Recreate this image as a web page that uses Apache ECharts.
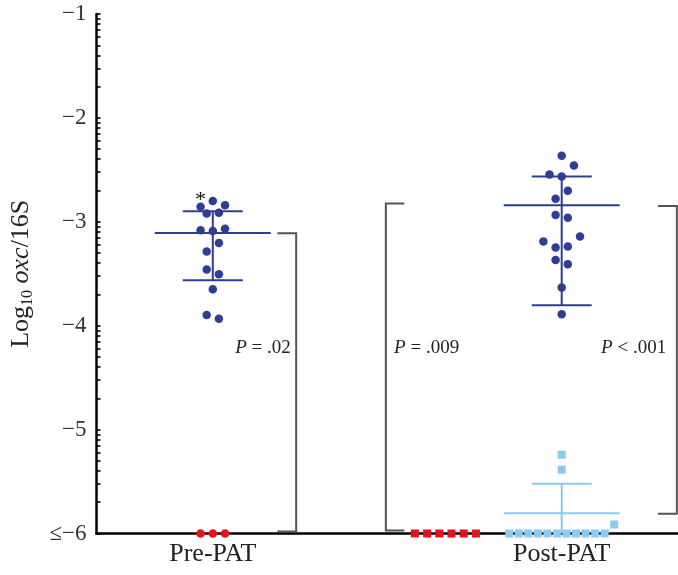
<!DOCTYPE html>
<html><head><meta charset="utf-8">
<script src="https://cdn.jsdelivr.net/npm/echarts@6/dist/echarts.min.js"></script>
<style>html,body{margin:0;padding:0;background:#fff}#c{width:678px;height:575px}</style>
</head><body><div id="c"></div>
<script>
// ---------------- data ----------------
const groupLabels = ['Pre-PAT', 'Post-PAT'];
const groupPositions = [1, 2];
const postNegPosition = 5 / 3;
const yTickValues = [-6, -5, -4, -3, -2, -1];

// log10 oxc/16S values (listed left-to-right within each row of the dot plot)
const preBlue = [-2.856, -2.799, -2.840, -2.920, -2.914, -3.081, -3.088, -3.068,
                 -3.286, -3.203, -3.460, -3.505, -3.649, -3.897, -3.932];
const preRed = [-6, -6, -6];
const postBlue = [-2.365, -2.544, -2.564, -2.458, -2.779, -2.702, -2.934, -2.962,
                  -3.190, -3.248, -3.238, -3.142, -3.367, -3.408, -3.633, -3.890];
const postRed = [-6, -6, -6, -6, -6, -6];
const postLightBlue = [-5.242, -5.386, -6, -6, -6, -6, -6, -6, -6, -6, -6, -6, -6, -5.913];

// summary lines: [centre, upper, lower]
const preSummary = [-3.107, -2.898, -3.563];
const postSummary = [-2.840, -2.564, -3.803];
const postLightSummary = [-5.804, -5.521, -6.087];

// comparison brackets: top / bottom values and P labels
const bracketTop = [-3.110, -2.824, -2.847];
const bracketBottom = [-5.981, -5.971, -5.810];
const pLabels = ['P = .02', 'P = .009', 'P < .001'];
const pLabelValue = -4.218;
const asteriskIndex = 0; // point in preBlue marked with *

// ---------------- layout / style ----------------
const FONT = '"Liberation Serif", "DejaVu Serif", serif';
const BLUE = '#2f3d92', LIGHT = '#8ccbef', RED = '#e3121c', GRAY = '#555555';
const ROW_GAP = 0.09, ROW_SPAN = 0.11, DOT_STEP = 0.035, ROW_MAX = 0.301;

function swarm(values, center) {
  const idx = values.map((v, i) => i).sort((a, b) => values[b] - values[a] || a - b);
  const rows = []; let cur = null;
  idx.forEach(i => {
    const v = values[i];
    if (cur && (cur.last - v) <= ROW_GAP + 1e-9 && (cur.first - v) <= ROW_SPAN + 1e-9) {
      cur.items.push(i); cur.last = v;
    } else { cur = { first: v, last: v, items: [i] }; rows.push(cur); }
  });
  const out = new Array(values.length);
  rows.forEach(r => {
    r.items.sort((a, b) => a - b);
    const n = r.items.length;
    const step = n > 1 ? Math.min(DOT_STEP, ROW_MAX / (n - 1)) : 0;
    r.items.forEach((i, k) => { out[i] = [center + (k - (n - 1) / 2) * step, values[i]]; });
  });
  return out;
}

// minor ticks: log-decade positions inside each unit
const tickValues = [];
yTickValues.forEach(v => tickValues.push(v));
for (let n = 1; n <= 5; n++) for (let k = 2; k <= 9; k++) tickValues.push(-n - 1 + Math.log10(k));

const bracketX = [[1.239, 1.185], [1.496, 1.549], [2.330, 2.276]];
const pLabelX = [[1.2235, 'right'], [1.5196, 'left'], [2.2995, 'right']];

const preBluePts = swarm(preBlue, groupPositions[0]).map((p, i) => i === asteriskIndex ? {
  value: p, label: { show: true, formatter: '*', position: 'top', distance: 0, offset: [0, 9],
    fontSize: 22, color: '#111', fontFamily: FONT }
} : p);

function renderErr(params, api) {
  const x = api.value(0);
  const pm = api.coord([x, api.value(1)]), pu = api.coord([x, api.value(2)]), pl = api.coord([x, api.value(3)]);
  const st = { stroke: api.visual('color'), lineWidth: 2 };
  return { type: 'group', children: [
    { type: 'line', shape: { x1: pu[0], y1: pu[1], x2: pl[0], y2: pl[1] }, style: st },
    { type: 'line', shape: { x1: pm[0] - 58, y1: pm[1], x2: pm[0] + 58, y2: pm[1] }, style: st },
    { type: 'line', shape: { x1: pu[0] - 30, y1: pu[1], x2: pu[0] + 30, y2: pu[1] }, style: st },
    { type: 'line', shape: { x1: pl[0] - 30, y1: pl[1], x2: pl[0] + 30, y2: pl[1] }, style: st }
  ]};
}

const dotStyle = c => ({ color: c, opacity: 1 });

const chart = echarts.init(document.getElementById('c'), null, { renderer: 'canvas' });
chart.setOption({
  animation: false,
  backgroundColor: '#ffffff',
  grid: { left: 96, right: 0, top: 14, bottom: 41.5 },
  xAxis: {
    type: 'value', min: 2 / 3, max: 7 / 3,
    splitLine: { show: false },
    axisTick: { show: false },
    axisLine: { onZero: false, lineStyle: { color: '#000', width: 2.5 } },
    axisLabel: {
      customValues: groupPositions,
      formatter: v => groupLabels[groupPositions.findIndex(g => Math.abs(g - v) < 1e-6)] || '',
      fontSize: 26, fontFamily: FONT, color: '#222', margin: 8
    }
  },
  yAxis: {
    type: 'value', min: -6, max: -1,
    splitLine: { show: false },
    axisLine: { show: true, lineStyle: { color: '#000', width: 2.5 } },
    axisTick: { show: true, inside: true, length: 4, customValues: tickValues, lineStyle: { color: '#000', width: 1.6 } },
    axisLabel: {
      customValues: yTickValues,
      formatter: v => (v === -6 ? '≤' : '') + '−' + Math.abs(v),
      fontSize: 23, fontFamily: FONT, color: '#333', margin: 10
    },
    name: '{n|Log}{s|10}{n| }{i|oxc}{n|/16S}',
    nameLocation: 'middle', nameRotate: 90, nameGap: 61,
    nameTextStyle: {
      fontFamily: FONT, fontSize: 26, color: '#222',
      rich: {
        n: { fontFamily: FONT, fontSize: 26, color: '#222' },
        i: { fontFamily: FONT, fontSize: 26, color: '#222', fontStyle: 'italic' },
        s: { fontFamily: FONT, fontSize: 16, color: '#222', padding: [13, 0, 0, 0] }
      }
    }
  },
  series: [
    { type: 'custom', name: 'brackets', z: 1, silent: true,
      data: bracketTop.map((t, i) => [bracketX[i][0], bracketX[i][1], t, bracketBottom[i]]),
      renderItem: (params, api) => {
        const a = api.coord([api.value(0), api.value(2)]), b = api.coord([api.value(1), api.value(2)]);
        const c = api.coord([api.value(0), api.value(3)]), d = api.coord([api.value(1), api.value(3)]);
        return { type: 'polyline', shape: { points: [b, a, c, d] }, style: { stroke: GRAY, lineWidth: 2, fill: null } };
      } },
    { type: 'custom', name: 'pvalues', z: 1, silent: true,
      data: pLabels.map((t, i) => [pLabelX[i][0], pLabelValue, i]),
      renderItem: (params, api) => {
        const i = api.value(2); const p = api.coord([api.value(0), api.value(1)]);
        return { type: 'text', style: {
          text: '{i|P}' + pLabels[i].slice(1), x: p[0], y: p[1], align: pLabelX[i][1], verticalAlign: 'middle',
          fontFamily: FONT, fontSize: 19, fill: '#222',
          rich: { i: { fontStyle: 'italic', fontFamily: FONT, fontSize: 19, fill: '#222' } } } };
      } },
    { type: 'custom', name: 'preErr', z: 2, clip: true, itemStyle: { color: BLUE },
      data: [[groupPositions[0]].concat(preSummary)], renderItem: renderErr },
    { type: 'custom', name: 'postErr', z: 2, clip: true, itemStyle: { color: BLUE },
      data: [[groupPositions[1]].concat(postSummary)], renderItem: renderErr },
    { type: 'custom', name: 'postLightErr', z: 2, clip: true, itemStyle: { color: LIGHT },
      data: [[groupPositions[1]].concat(postLightSummary)], renderItem: renderErr },
    { type: 'scatter', name: 'preBlue', z: 3, symbol: 'circle', symbolSize: 8.5, itemStyle: dotStyle(BLUE), data: preBluePts },
    { type: 'scatter', name: 'preRed', z: 3, symbol: 'circle', symbolSize: 8.5, itemStyle: dotStyle(RED), data: swarm(preRed, groupPositions[0]) },
    { type: 'scatter', name: 'postBlue', z: 3, symbol: 'circle', symbolSize: 8.5, itemStyle: dotStyle(BLUE), data: swarm(postBlue, groupPositions[1]) },
    { type: 'scatter', name: 'postRed', z: 3, symbol: 'rect', symbolSize: 8, itemStyle: dotStyle(RED), data: swarm(postRed, postNegPosition) },
    { type: 'scatter', name: 'postLight', z: 3, symbol: 'rect', symbolSize: 8, itemStyle: dotStyle(LIGHT), data: swarm(postLightBlue, groupPositions[1]) }
  ]
});
</script></body></html>
